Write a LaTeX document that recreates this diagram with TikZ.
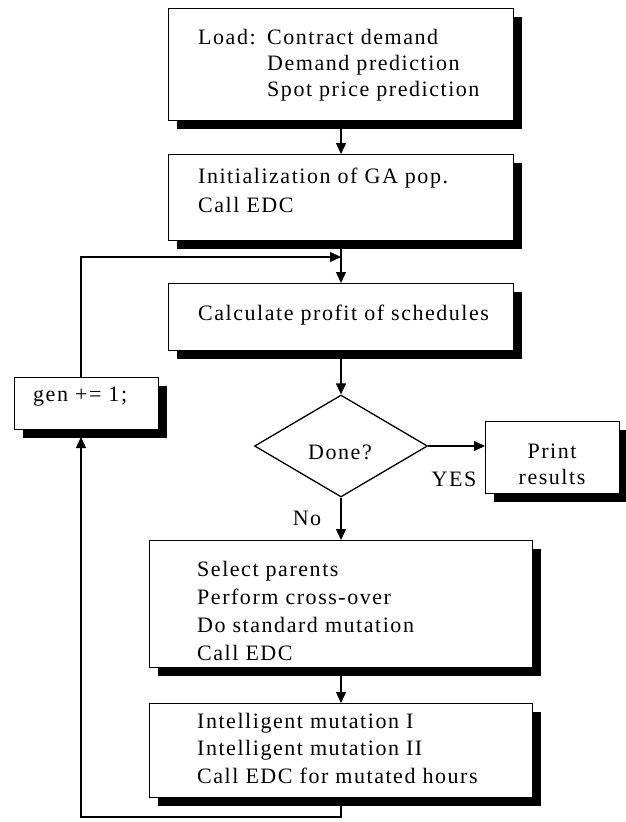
\documentclass[tikz,border=0pt]{standalone}
\usepackage{fontspec}
\setmainfont{Liberation Serif}[LetterSpace=7]
\usetikzlibrary{arrows.meta,shapes.geometric,shadows}
\begin{document}
\begin{tikzpicture}[x=1pt,y=-1pt,
  box/.style={draw=black, line width=1.3pt, fill=white, inner sep=0pt, anchor=north west,
     drop shadow={shadow xshift=8pt, shadow yshift=-8pt, fill=black, opacity=1}},
  txt/.style={inner sep=0pt, anchor=north west, align=left, font=\fontsize{22}{28}\selectfont},
  lbl/.style={inner sep=0pt, font=\fontsize{22}{27}\selectfont},
  conn/.style={line width=1.3pt, -{Triangle[length=11pt,width=10pt]}},
  plain/.style={line width=1.3pt}]
\useasboundingbox (0,0) rectangle (626,822);
% boxes
\node[box, minimum width=345pt, minimum height=112pt] (b1) at (168,8) {};
\node[box, minimum width=345pt, minimum height=86pt] (b2) at (168,154) {};
\node[box, minimum width=345pt, minimum height=67pt] (b3) at (168,283) {};
\node[box, minimum width=144pt, minimum height=52pt] (g) at (14,377) {};
\node[box, minimum width=134pt, minimum height=72pt] (p) at (485,421) {};
\node[box, minimum width=383pt, minimum height=127pt] (b4) at (149,540) {};
\node[box, minimum width=383pt, minimum height=94pt] (b5) at (149,703) {};
\node[draw=black, line width=1.3pt, fill=white, shape=diamond, inner sep=0pt,
      minimum width=173pt, minimum height=102pt] (d) at (341,446) {};
% texts
\node[txt, font=\fontsize{22}{26}\selectfont] (t1) at (198,29) {\makebox[69pt][l]{Load:}Contract demand\\
  \hspace*{69pt}Demand prediction\\ \hspace*{69pt}Spot price prediction};
\node[txt, font=\fontsize{22}{29}\selectfont] (t2) at (198,168) {Initialization of GA pop.\\ Call EDC};
\node[txt] (t3) at (198,305) {Calculate profit of schedules};
\node[txt] (tg) at (33,387) {gen += 1;};
\node[lbl] (td) at (340,452) {Done?};
\node[lbl] (tp) at (552,466) {\begin{tabular}{@{}c@{}}Print\\[-1pt] results\end{tabular}};
\node[lbl] (yes) at (454,479) {YES};
\node[lbl] (no) at (307,518) {No};
\node[txt] (t4) at (197,561) {Select parents\\ Perform cross-over\\ Do standard mutation\\ Call EDC};
\node[txt, font=\fontsize{22}{27.5}\selectfont] (t5) at (197,713) {Intelligent mutation I\\ Intelligent mutation II\\ Call EDC for mutated hours};
% connectors
\coordinate (a1) at (341,128);
\coordinate (a2) at (341,248);
\coordinate (a3) at (341,358);
\coordinate (a4) at (341,675);
\coordinate (a5) at (341,805);
\coordinate (c1) at (341,817);
\coordinate (c2) at (81,817);
\coordinate (c3) at (81,437);
\coordinate (c4) at (81,257);
\coordinate (c5) at (341,257);
\draw[conn] (a1) -- (b2.north -| a1);
\draw[conn] (a2) -- (b3.north -| a2);
\draw[conn] (a3) -- (d.north);
\draw[conn] (d.east) -- (p.west |- d.east);
\draw[conn] (d.south) -- (b4.north -| d.south);
\draw[conn] (a4) -- (b5.north -| a4);
\draw[conn] (a5) -- (c1) -- (c2) -- (c3);
\draw[conn] (g.north -| c4) -- (c4) -- (c5);
\end{tikzpicture}
\end{document}
